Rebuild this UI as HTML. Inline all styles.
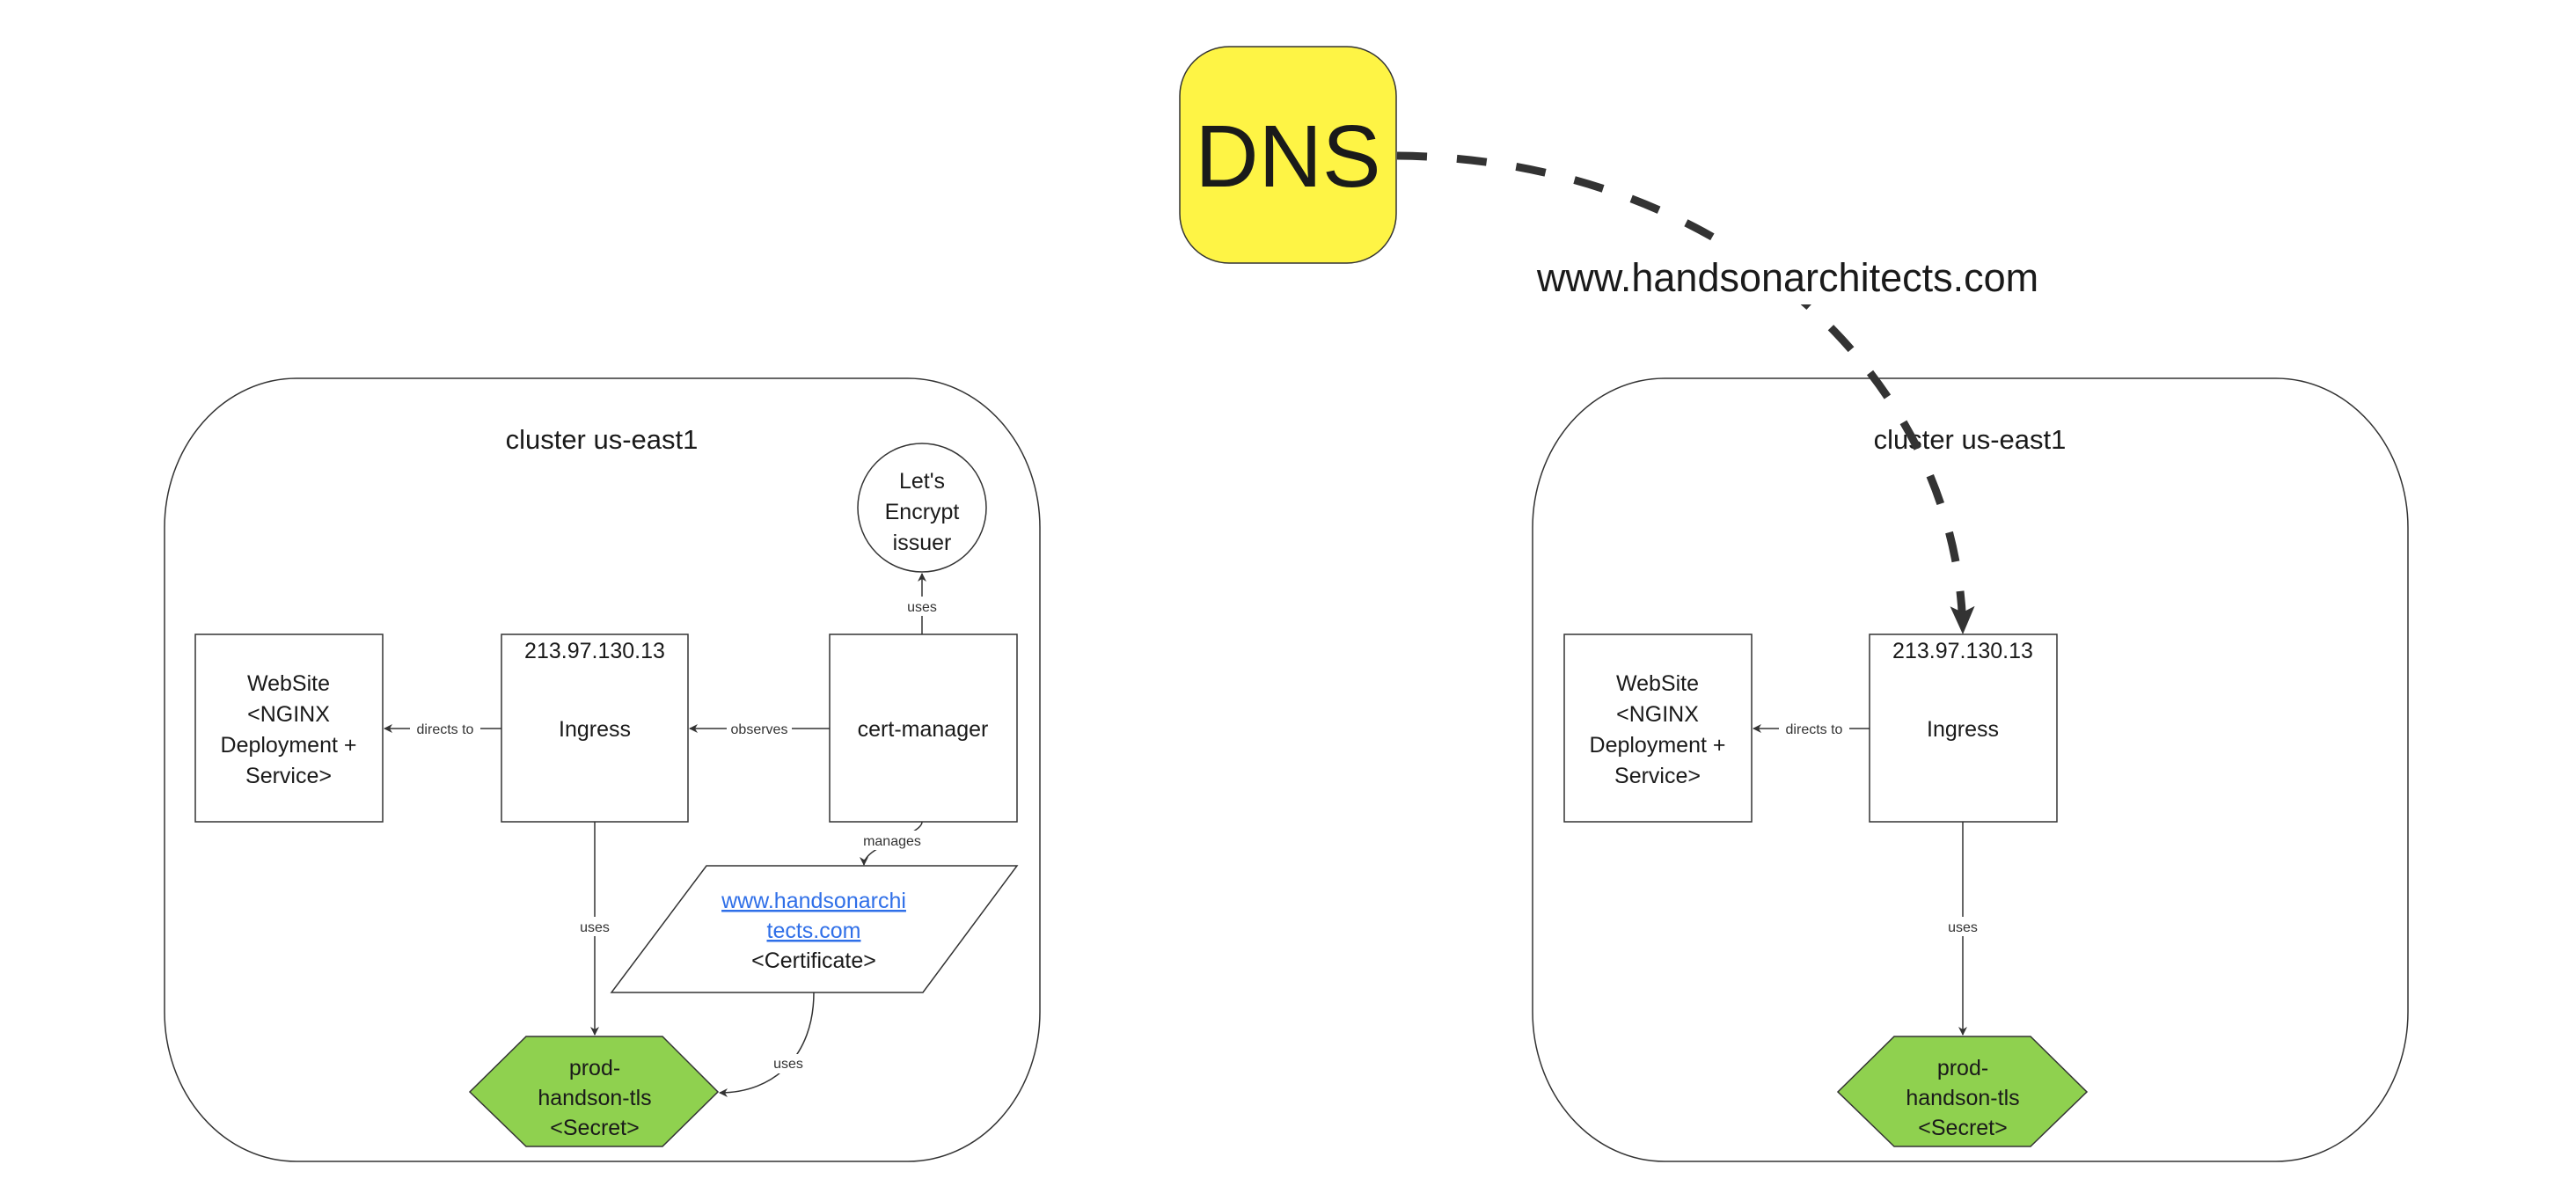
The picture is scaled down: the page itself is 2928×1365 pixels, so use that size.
<!DOCTYPE html>
<html><head><meta charset="utf-8"><style>
html,body{margin:0;padding:0;background:#fff;}
svg{display:block;}
text{font-family:"Liberation Sans",sans-serif;fill:#1a1a1a;}
.n{font-size:25px;text-anchor:middle;}
.s{font-size:16px;text-anchor:middle;fill:#333;}
</style></head><body>
<svg width="2928" height="1365" viewBox="0 0 2928 1365" xmlns="http://www.w3.org/2000/svg">
<defs>
<marker id="a" markerWidth="10" markerHeight="10" refX="9" refY="5" orient="auto" markerUnits="userSpaceOnUse">
<path d="M0,0 L10,5 L0,10 L3,5 Z" fill="#333"/></marker>
<marker id="b" markerWidth="34" markerHeight="34" refX="30" refY="17" orient="auto" markerUnits="userSpaceOnUse">
<path d="M0,3 L32,17 L0,31 L7,17 Z" fill="#333"/></marker>
</defs>

<!-- clusters -->
<rect x="187" y="430" width="995" height="890" rx="150" ry="170" fill="none" stroke="#333" stroke-width="1.5"/>
<rect x="1742" y="430" width="995" height="890" rx="150" ry="170" fill="none" stroke="#333" stroke-width="1.5"/>
<text class="n" x="684" y="510" style="font-size:31px">cluster us-east1</text>
<text class="n" x="2239" y="510" style="font-size:31px">cluster us-east1</text>

<!-- DNS -->
<rect x="1341" y="53" width="246" height="246" rx="56" fill="#fef445" stroke="#333" stroke-width="1.5"/>
<text x="1464" y="212" style="font-size:100px;text-anchor:middle">DNS</text>

<!-- left cluster nodes -->
<circle cx="1048" cy="577" r="73" fill="#fff" stroke="#333" stroke-width="1.5"/>
<text class="n" x="1048" y="555">Let's</text>
<text class="n" x="1048" y="590">Encrypt</text>
<text class="n" x="1048" y="625">issuer</text>

<rect x="222" y="721" width="213" height="213" fill="#fff" stroke="#333" stroke-width="1.5"/>
<text class="n" x="328" y="785">WebSite</text>
<text class="n" x="328" y="820">&lt;NGINX</text>
<text class="n" x="328" y="855">Deployment +</text>
<text class="n" x="328" y="890">Service&gt;</text>

<rect x="570" y="721" width="212" height="213" fill="#fff" stroke="#333" stroke-width="1.5"/>
<text class="n" x="676" y="748">213.97.130.13</text>
<text class="n" x="676" y="837">Ingress</text>

<rect x="943" y="721" width="213" height="213" fill="#fff" stroke="#333" stroke-width="1.5"/>
<text class="n" x="1049" y="837">cert-manager</text>

<polygon points="803,984 1156,984 1049,1128 695,1128" fill="#fff" stroke="#333" stroke-width="1.5"/>
<text class="n" x="925" y="1032" style="fill:#2f6fe8;text-decoration:underline">www.handsonarchi</text>
<text class="n" x="925" y="1066" style="fill:#2f6fe8;text-decoration:underline">tects.com</text>
<text class="n" x="925" y="1100">&lt;Certificate&gt;</text>

<polygon points="598,1178 753,1178 816,1241 753,1303 598,1303 534,1241" fill="#8fd14f" stroke="#333" stroke-width="1.5"/>
<text class="n" x="676" y="1222">prod-</text>
<text class="n" x="676" y="1256">handson-tls</text>
<text class="n" x="676" y="1290">&lt;Secret&gt;</text>

<!-- left connectors -->
<line x1="570" y1="828" x2="437" y2="828" stroke="#333" stroke-width="1.5" marker-end="url(#a)"/>
<rect x="466" y="817" width="80" height="22" fill="#fff"/><text class="s" x="506" y="834">directs to</text>
<line x1="943" y1="828" x2="784" y2="828" stroke="#333" stroke-width="1.5" marker-end="url(#a)"/>
<rect x="826" y="817" width="74" height="22" fill="#fff"/><text class="s" x="863" y="834">observes</text>
<line x1="1048" y1="721" x2="1048" y2="652" stroke="#333" stroke-width="1.5" marker-end="url(#a)"/>
<rect x="1028" y="678" width="40" height="22" fill="#fff"/><text class="s" x="1048" y="695">uses</text>
<path d="M1048,934 C1048,950 982,960 982,983" fill="none" stroke="#333" stroke-width="1.5" marker-end="url(#a)"/>
<rect x="978" y="944" width="72" height="22" fill="#fff"/><text class="s" x="1014" y="961">manages</text>
<line x1="676" y1="934" x2="676" y2="1176" stroke="#333" stroke-width="1.5" marker-end="url(#a)"/>
<rect x="656" y="1042" width="40" height="22" fill="#fff"/><text class="s" x="676" y="1059">uses</text>
<path d="M925,1128 C925,1200 880,1242 818,1242" fill="none" stroke="#333" stroke-width="1.5" marker-end="url(#a)"/>
<rect x="876" y="1198" width="40" height="22" fill="#fff"/><text class="s" x="896" y="1214">uses</text>

<!-- right cluster nodes -->
<rect x="1778" y="721" width="213" height="213" fill="#fff" stroke="#333" stroke-width="1.5"/>
<text class="n" x="1884" y="785">WebSite</text>
<text class="n" x="1884" y="820">&lt;NGINX</text>
<text class="n" x="1884" y="855">Deployment +</text>
<text class="n" x="1884" y="890">Service&gt;</text>

<rect x="2125" y="721" width="213" height="213" fill="#fff" stroke="#333" stroke-width="1.5"/>
<text class="n" x="2231" y="748">213.97.130.13</text>
<text class="n" x="2231" y="837">Ingress</text>

<polygon points="2153,1178 2308,1178 2372,1241 2308,1303 2153,1303 2089,1241" fill="#8fd14f" stroke="#333" stroke-width="1.5"/>
<text class="n" x="2231" y="1222">prod-</text>
<text class="n" x="2231" y="1256">handson-tls</text>
<text class="n" x="2231" y="1290">&lt;Secret&gt;</text>

<line x1="2125" y1="828" x2="1993" y2="828" stroke="#333" stroke-width="1.5" marker-end="url(#a)"/>
<rect x="2022" y="817" width="80" height="22" fill="#fff"/><text class="s" x="2062" y="834">directs to</text>
<line x1="2231" y1="934" x2="2231" y2="1176" stroke="#333" stroke-width="1.5" marker-end="url(#a)"/>
<rect x="2211" y="1042" width="40" height="22" fill="#fff"/><text class="s" x="2231" y="1059">uses</text>

<!-- DNS dashed connector -->
<path d="M1588,177 C1960,180 2227,430 2231,719" fill="none" stroke="#333" stroke-width="9" stroke-dasharray="34,34" marker-end="url(#b)"/>
<rect x="1715" y="282" width="635" height="64" fill="#fff"/>
<text x="2032" y="331" style="font-size:45px;text-anchor:middle">www.handsonarchitects.com</text>
</svg>
</body></html>
